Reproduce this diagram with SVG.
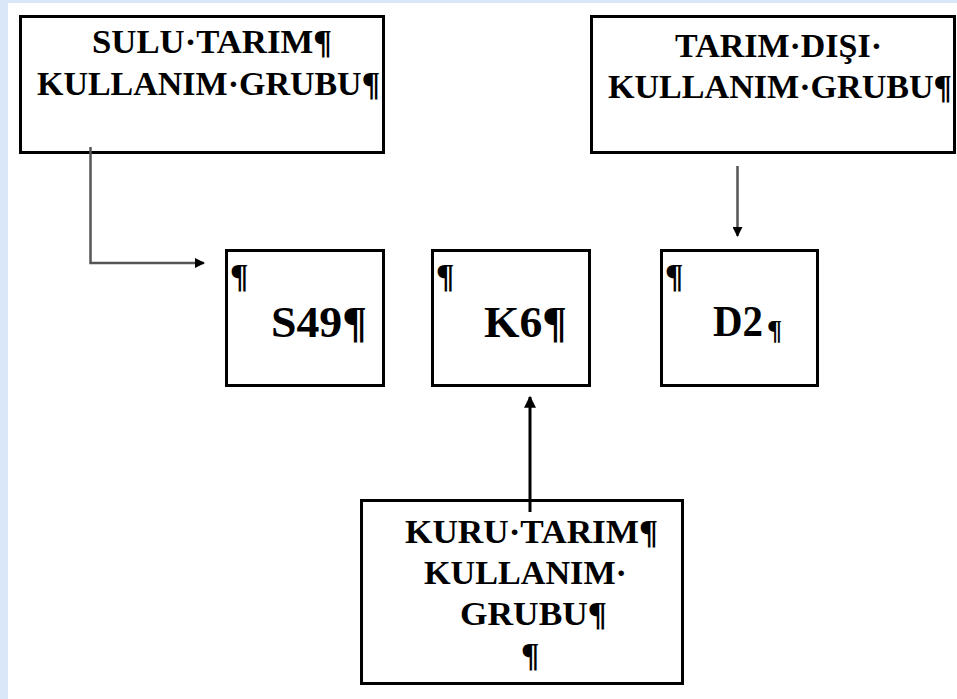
<svg xmlns="http://www.w3.org/2000/svg" width="957" height="699" viewBox="0 0 957 699">
<style>
.box{fill:#fff;stroke:#000;stroke-width:3}
.t{font-family:"Liberation Serif","Times New Roman",serif;font-weight:bold;fill:#000}
.c{font-size:34px}
.big{font-size:44px}
</style>
<defs>
<marker id="ah" viewBox="0 0 10 10" refX="9" refY="5" markerWidth="10" markerHeight="10" markerUnits="userSpaceOnUse" orient="auto">
<path d="M0,0 L10,5 L0,10 z" fill="#000"/>
</marker>
<marker id="ah2" viewBox="0 0 10 10" refX="9" refY="5" markerWidth="12" markerHeight="12" markerUnits="userSpaceOnUse" orient="auto">
<path d="M0,0 L10,5 L0,10 z" fill="#000"/>
</marker>
</defs>
<rect x="0" y="0" width="957" height="699" fill="#fff"/>
<rect x="0" y="0" width="8" height="699" fill="#d9e7f8"/>
<rect x="0" y="0" width="957" height="3" fill="#d9e7f8"/>

<g id="sulu">
<rect class="box" x="20.5" y="16.5" width="363" height="136"/>
<text class="t c" x="92" y="53" textLength="240" lengthAdjust="spacingAndGlyphs">SULU·TARIM¶</text>
<text class="t c" x="37" y="95" textLength="343" lengthAdjust="spacingAndGlyphs">KULLANIM·GRUBU¶</text>
</g>

<g id="tarimdisi">
<rect class="box" x="591.5" y="16.5" width="363" height="136"/>
<text class="t c" x="675" y="57" textLength="207" lengthAdjust="spacingAndGlyphs">TARIM·DIŞI·</text>
<text class="t c" x="608" y="98" textLength="344" lengthAdjust="spacingAndGlyphs">KULLANIM·GRUBU¶</text>
</g>

<g id="s49">
<rect class="box" x="226.5" y="250.5" width="157" height="135"/>
<text class="t c" x="230" y="287">¶</text>
<text class="t big" x="271" y="337" textLength="96" lengthAdjust="spacingAndGlyphs">S49¶</text>
</g>

<g id="k6">
<rect class="box" x="432.5" y="250.5" width="157" height="135"/>
<text class="t c" x="436" y="287">¶</text>
<text class="t big" x="484" y="337" textLength="83" lengthAdjust="spacingAndGlyphs">K6¶</text>
</g>

<g id="d2">
<rect class="box" x="661.5" y="250.5" width="156" height="135"/>
<text class="t c" x="665" y="287">¶</text>
<text class="t big" x="713" y="336" textLength="50" lengthAdjust="spacingAndGlyphs">D2</text>
<text class="t" x="767" y="339" font-size="28">¶</text>
</g>

<g id="kuru">
<rect class="box" x="361.5" y="500.5" width="321" height="183"/>
<text class="t c" x="405" y="543" textLength="253" lengthAdjust="spacingAndGlyphs">KURU·TARIM¶</text>
<text class="t c" x="424" y="584" textLength="203" lengthAdjust="spacingAndGlyphs">KULLANIM·</text>
<text class="t c" x="460" y="625" textLength="147" lengthAdjust="spacingAndGlyphs">GRUBU¶</text>
<text class="t c" x="521" y="666">¶</text>
</g>

<g id="connectors" fill="none">
<path d="M90.5,147 L90.5,263 L204,263" stroke="#555" stroke-width="2.5" marker-end="url(#ah)"/>
<path d="M737.5,166 L737.5,236" stroke="#555" stroke-width="2.5" marker-end="url(#ah)"/>
<path d="M530,512 L530,397" stroke="#000" stroke-width="3" marker-end="url(#ah2)"/>
</g>
</svg>
